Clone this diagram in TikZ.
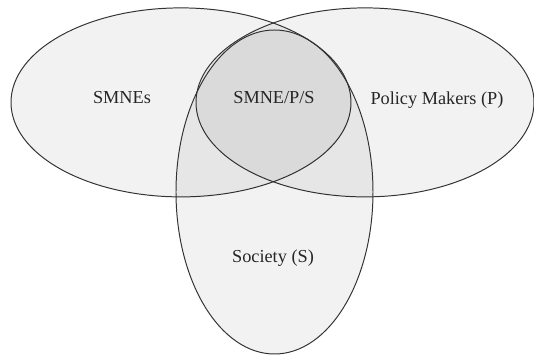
\documentclass[tikz,border=0pt]{standalone}
\usepackage{fontspec}
\setmainfont{Liberation Serif}
\usepackage{tikz}
\usetikzlibrary{positioning, shapes.geometric}

\tikzset{
    setbox/.style={
        ellipse,
        draw=black!80,
        line width=0.7pt,
        fill=black,
        fill opacity=0.05,
        draw opacity=1,
        inner sep=0pt
    },
    setlabel/.style={
        font=\fontsize{13}{15}\selectfont,
        text=black!85,
        inner sep=1pt
    }
}

\begin{document}
\begin{tikzpicture}
                \useasboundingbox (0,0) rectangle (13.35,8.9);

                % the three sets
                \node[setbox, minimum width=8.5cm, minimum height=4.725cm] (smne) at (4.525,6.34) {};
                \node[setbox, minimum width=8.45cm, minimum height=4.725cm] (policy) at (9.125,6.34) {};
                \node[setbox, minimum width=4.925cm, minimum height=8.1cm] (society) at (6.8625,4.1) {};

                % labels
                \node[setlabel] (smneLabel) at (3.05,6.45) {SMNEs};
                \node[setlabel] (allLabel) at (6.85,6.47) {SMNE/P/S};
                \node[setlabel] (policyLabel) at (10.925,6.4) {Policy Makers (P)};
                \node[setlabel] (societyLabel) at (6.825,2.45) {Society (S)};
            \end{tikzpicture}
\end{document}
